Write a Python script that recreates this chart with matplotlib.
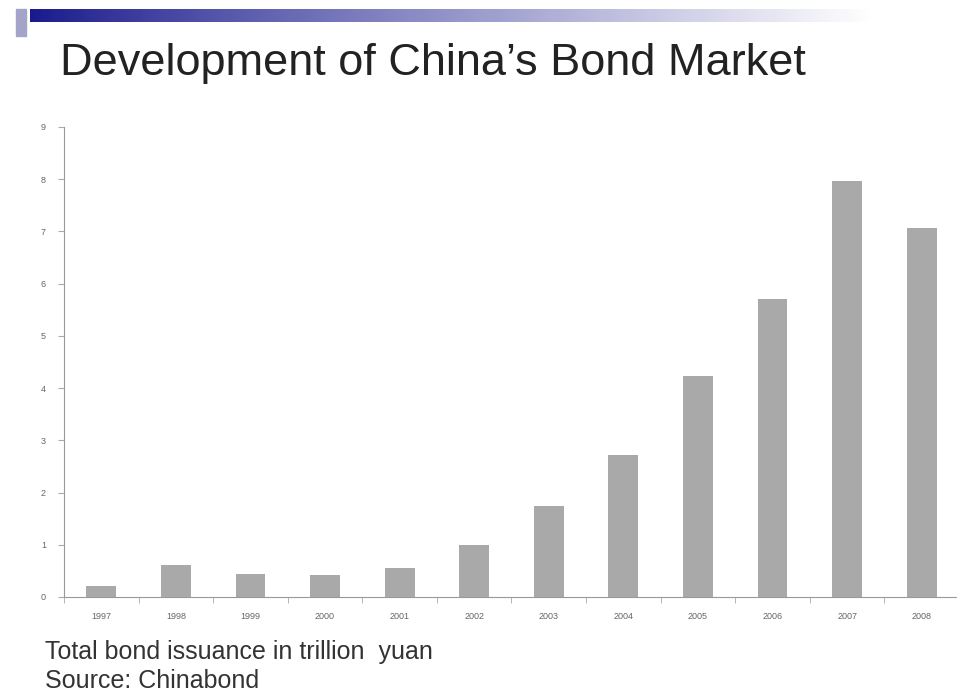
import matplotlib
matplotlib.use("Agg")
import matplotlib.pyplot as plt
import numpy as np
from matplotlib.patches import Rectangle

years = ["1997", "1998", "1999", "2000", "2001", "2002", "2003", "2004", "2005", "2006", "2007", "2008"]
issuance = [0.21, 0.61, 0.44, 0.42, 0.56, 1.00, 1.74, 2.72, 4.23, 5.71, 7.97, 7.07]
yticks = list(range(0, 10))

plt.rcParams['font.family'] = ['Liberation Sans', 'DejaVu Sans']
W, H = 957, 692
fig = plt.figure(figsize=(W / 100, H / 100), dpi=100)

# top gradient banner
gax = fig.add_axes([30 / W, 1 - 22 / H, (W - 30) / W, 13 / H])
grad = np.linspace(0, 1, 256)
c0 = np.array([0.10, 0.10, 0.55])
c1 = np.array([1.0, 1.0, 1.0])
t = np.clip(grad * 1.1, 0, 1)[:, None] ** 0.9
cols = c0[None, :] * (1 - t) + c1[None, :] * t
gax.imshow(cols[None, :, :], aspect='auto', extent=[0, 1, 0, 1])
gax.axis('off')
fig.patches.append(Rectangle((16 / W, 1 - 36 / H), 10 / W, 27 / H, transform=fig.transFigure,
                             color='#a4a4c8', zorder=0))

fig.text(60 / W, 1 - 63 / H, "Development of China\u2019s Bond Market", fontsize=32.5,
         color='#222222', va='center', ha='left')

ax = fig.add_axes([64 / W, 1 - 597 / H, 895 / W, 470 / H])
x = np.arange(len(years))
ax.bar(x, issuance, width=0.4, color='#a9a9a9', zorder=2)
ax.set_xlim(-0.5, len(years) - 0.5)
ax.set_ylim(0, 9)
ax.set_yticks(yticks)
ax.set_yticklabels([str(v) for v in yticks], fontsize=6.5, color='#666666')
ax.set_xticks(x)
ax.set_xticklabels(years, fontsize=6.5, color='#666666')
ax.set_xticks(np.arange(-0.5, len(years), 1), minor=True)
ax.tick_params(axis='x', which='major', length=0, pad=11)
ax.tick_params(axis='x', which='minor', length=4, color='#aaaaaa', direction='out')
ax.tick_params(axis='y', length=4, color='#aaaaaa', pad=9)
for s in ['top', 'right']:
    ax.spines[s].set_visible(False)
ax.spines['left'].set_color('#999999')
ax.spines['bottom'].set_color('#999999')

fig.text(45 / W, 1 - 652 / H, "Total bond issuance in trillion  yuan", fontsize=18,
         color='#333333', va='center', ha='left')
fig.text(45 / W, 1 - 681 / H, "Source: Chinabond", fontsize=18,
         color='#333333', va='center', ha='left')

fig.savefig("out.png", dpi=100)
